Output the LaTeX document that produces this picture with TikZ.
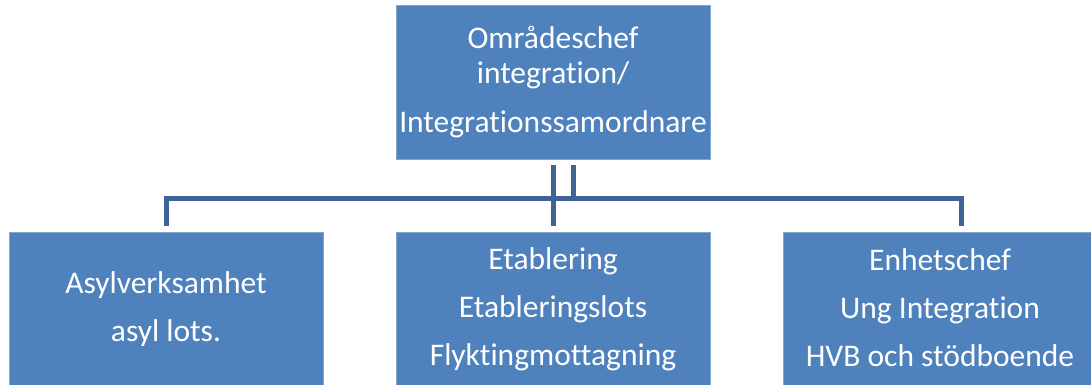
\documentclass[tikz,border=0pt]{standalone}
\usepackage{fontspec}
\setmainfont[Ligatures=NoCommon]{Carlito}
\definecolor{boxblue}{RGB}{79,129,189}
\definecolor{boxrim}{RGB}{134,166,210}
\definecolor{linkblue}{RGB}{62,99,148}
\begin{document}
\begin{tikzpicture}[x=1pt,y=-1pt,
	orgbox/.style={rectangle,fill=boxblue,draw=boxrim,line width=0.8pt,text=white,
		minimum width=314pt,minimum height=154pt,inner sep=0pt,align=center,
		font=\fontsize{31.5}{48}\selectfont},
	link/.style={draw=linkblue,line width=5pt}]

		% page frame
		\useasboundingbox (0,0) rectangle (1091,385);
		\clip (0,0) rectangle (1091,385);

		% the boxes
		\node[orgbox,font=\fontsize{31.5}{35}\selectfont] (chef) at (553,82) {Områdeschef\\integration/\\[14pt]Integrationssamordnare};
		\node[orgbox] (asyl) at (166,309) {Asylverksamhet\\asyl lots.};
		\node[orgbox] (etab) at (553,309) {Etablering\\Etableringslots\\Flyktingmottagning};
		\node[orgbox] (ung) at (940,309) {Enhetschef\\Ung Integration\\HVB och stödboende\rule[-3pt]{0pt}{3pt}};

		% lines between the boxes
		\coordinate (bus) at (553,198);
		\draw[link] ([yshift=-6pt]chef.south) -- ([yshift=6pt]etab.north);
		\draw[link] ([xshift=20pt,yshift=-6pt]chef.south) -- ([xshift=20pt]chef.south |- bus);
		\draw[link] ([yshift=6pt]asyl.north) |- (bus) -| ([xshift=21pt,yshift=6pt]ung.north);

	\end{tikzpicture}
\end{document}
